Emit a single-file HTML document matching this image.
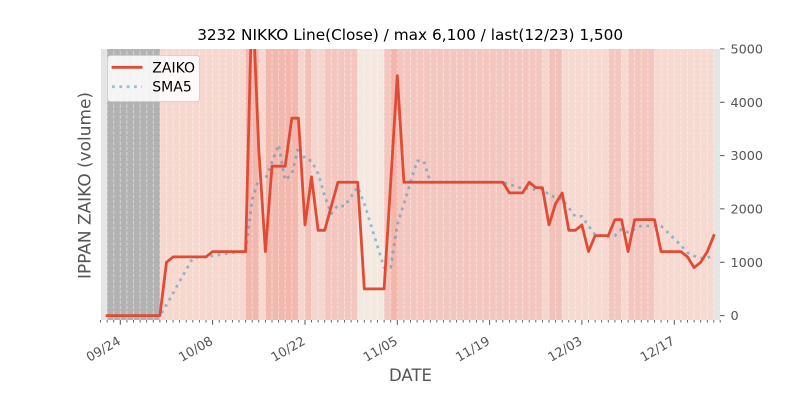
<!DOCTYPE html>
<html><head><meta charset="utf-8"><style>
html,body{margin:0;padding:0;background:#fff;}
svg{display:block;}
text{font-family:"DejaVu Sans","Liberation Sans",sans-serif;}
</style></head><body>
<svg width="800" height="400" viewBox="0 0 800 400" xmlns="http://www.w3.org/2000/svg">
<defs><clipPath id="pa"><rect x="101" y="49" width="619" height="271"/></clipPath></defs>
<rect width="800" height="400" fill="#fff"/>
<!-- plot background -->
<rect x="101" y="49" width="619" height="271" fill="#e5e5e5"/>
<!-- bands -->
<g shape-rendering="crispEdges">
<rect x="107.1" y="49" width="52.8" height="271" fill="#b2b2b2"/>
<rect x="159.9" y="49" width="85.7" height="271" fill="#f6d8cf"/>
<rect x="245.6" y="49" width="13.2" height="271" fill="#f2b7ad"/>
<rect x="258.8" y="49" width="6.6" height="271" fill="#f6d8cf"/>
<rect x="265.4" y="49" width="33" height="271" fill="#f2b7ad"/>
<rect x="298.4" y="49" width="6.6" height="271" fill="#f5d5cc"/>
<rect x="305" y="49" width="6.5" height="271" fill="#f2c0b8"/>
<rect x="311.5" y="49" width="13.2" height="271" fill="#f5d6ce"/>
<rect x="324.7" y="49" width="33" height="271" fill="#f3c7bf"/>
<rect x="357.7" y="49" width="26.4" height="271" fill="#f3e9e1"/>
<rect x="384.1" y="49" width="6.6" height="271" fill="#f3c7bf"/>
<rect x="390.7" y="49" width="7.2" height="271" fill="#f4b5aa"/>
<rect x="397.9" y="49" width="144.5" height="271" fill="#f3c7bf"/>
<rect x="542.4" y="49" width="6.6" height="271" fill="#f5d6ce"/>
<rect x="549" y="49" width="13.2" height="271" fill="#f2c2ba"/>
<rect x="562.2" y="49" width="46.1" height="271" fill="#f6d9d0"/>
<rect x="608.3" y="49" width="13.2" height="271" fill="#f3c7bf"/>
<rect x="621.5" y="49" width="6.6" height="271" fill="#f6d9d0"/>
<rect x="628.1" y="49" width="26.4" height="271" fill="#f3c7bf"/>
<rect x="654.5" y="49" width="59.3" height="271" fill="#f6d9d0"/>
</g>
<!-- dashed daily grid -->
<path stroke="#fff" stroke-opacity="0.45" stroke-width="1" stroke-dasharray="3.7 1.6" fill="none" d="M107.1 320V49M113.7 320V49M120.3 320V49M126.9 320V49M133.5 320V49M140.1 320V49M146.7 320V49M153.3 320V49M159.9 320V49M166.5 320V49M173.1 320V49M179.6 320V49M186.2 320V49M192.8 320V49M199.4 320V49M206 320V49M212.6 320V49M219.2 320V49M225.8 320V49M232.4 320V49M239 320V49M245.6 320V49M252.2 320V49M258.8 320V49M265.4 320V49M272 320V49M278.6 320V49M285.2 320V49M291.8 320V49M298.4 320V49M305 320V49M311.5 320V49M318.1 320V49M324.7 320V49M331.3 320V49M337.9 320V49M344.5 320V49M351.1 320V49M357.7 320V49M364.3 320V49M370.9 320V49M377.5 320V49M384.1 320V49M390.7 320V49M397.3 320V49M403.9 320V49M410.5 320V49M417.1 320V49M423.7 320V49M430.3 320V49M436.9 320V49M443.4 320V49M450 320V49M456.6 320V49M463.2 320V49M469.8 320V49M476.4 320V49M483 320V49M489.6 320V49M496.2 320V49M502.8 320V49M509.4 320V49M516 320V49M522.6 320V49M529.2 320V49M535.8 320V49M542.4 320V49M549 320V49M555.6 320V49M562.2 320V49M568.8 320V49M575.3 320V49M581.9 320V49M588.5 320V49M595.1 320V49M601.7 320V49M608.3 320V49M614.9 320V49M621.5 320V49M628.1 320V49M634.7 320V49M641.3 320V49M647.9 320V49M654.5 320V49M661.1 320V49M667.7 320V49M674.3 320V49M680.9 320V49M687.5 320V49M694.1 320V49M700.7 320V49M707.3 320V49M713.8 320V49"/>
<!-- series -->
<g clip-path="url(#pa)" fill="none">
<polyline stroke="#348ABD" stroke-opacity="0.5" stroke-width="2.78" stroke-dasharray="2.78 4.58" stroke-linecap="butt" stroke-linejoin="round" points="133.5,315.6 159.9,315.6 166.5,304.9 173.05,293.2 179.6,281.5 186.2,269.7 192.8,258.0 199.4,256.9 206.0,256.9 212.6,255.9 219.2,254.8 225.8,253.7 232.4,252.7 239.0,251.6 245.6,251.6 252.2,199.3 258.8,179.0 265.4,179.0 272.0,162.0 278.6,144.9 285.2,180.1 291.8,173.7 298.4,147.0 305.0,158.8 311.5,160.9 318.1,173.7 324.7,196.1 331.3,213.7 337.9,205.2 344.5,206.25 351.1,196.6 357.7,187.0 364.3,203.6 370.9,224.9 377.5,246.3 384.1,267.6 390.7,267.6 397.3,224.9 403.9,203.6 410.5,182.25 417.1,160.9 423.7,160.9 430.3,182.25 502.8,182.25 509.4,184.4 516.0,186.5 522.6,188.6 529.2,188.6 535.8,189.7 542.4,188.6 549.0,195.05 555.6,197.2 562.2,199.3 568.8,207.9 575.3,216.4 581.9,216.4 588.5,226.0 595.1,234.5 601.7,235.6 608.3,236.7 614.9,235.6 621.5,229.2 628.1,232.4 634.7,229.2 641.3,226.0 661.1,226.0 667.7,232.4 674.3,238.8 680.9,245.2 687.5,252.7 694.1,255.9 700.7,258.0 707.3,258.0 713.8,254.8"/>
<polyline stroke="#E24A33" stroke-width="2.78" stroke-linecap="square" stroke-linejoin="round" points="107.1,315.6 159.9,315.6 166.5,262.3 173.05,256.9 206.0,256.9 212.6,251.6 245.6,251.6 252.2,-9.8 258.8,150.2 265.4,251.6 272.0,166.2 285.2,166.2 291.8,118.2 298.4,118.2 305.0,224.9 311.5,176.9 318.1,230.3 324.7,230.3 337.9,182.25 357.7,182.25 364.3,288.9 384.1,288.9 397.3,75.6 403.9,182.25 502.8,182.25 509.4,192.9 522.6,192.9 529.2,182.25 535.8,187.6 542.4,187.6 549.0,224.9 555.6,203.6 562.2,192.9 568.8,230.3 575.3,230.3 581.9,224.9 588.5,251.6 595.1,235.6 608.3,235.6 614.9,219.6 621.5,219.6 628.1,251.6 634.7,219.6 654.5,219.6 661.1,251.6 680.9,251.6 687.5,256.9 694.1,267.6 700.7,262.3 707.3,251.6 713.8,235.6"/>
</g>
<!-- legend -->
<rect x="107.5" y="55.5" width="92" height="46" rx="3" ry="3" fill="#fff" fill-opacity="0.85" stroke="#cccccc" stroke-width="0.8"/>
<line x1="113" y1="67.3" x2="141" y2="67.3" stroke="#E24A33" stroke-width="2.78" stroke-linecap="square"/>
<line x1="112" y1="86.7" x2="142" y2="86.7" stroke="#348ABD" stroke-opacity="0.5" stroke-width="2.78" stroke-dasharray="2.78 4.58"/>
<text x="152.3" y="72.3" font-size="14" fill="#000">ZAIKO</text>
<text x="152.3" y="91.7" font-size="14" fill="#000">SMA5</text>
<!-- x ticks -->
<path stroke="#555" stroke-width="0.9" fill="none" d="M100.5 320v2.5M107.1 320v2.5M113.7 320v2.5M126.9 320v2.5M133.5 320v2.5M140.1 320v2.5M146.7 320v2.5M153.3 320v2.5M159.9 320v2.5M166.5 320v2.5M173.1 320v2.5M179.6 320v2.5M186.2 320v2.5M192.8 320v2.5M199.4 320v2.5M206 320v2.5M219.2 320v2.5M225.8 320v2.5M232.4 320v2.5M239 320v2.5M245.6 320v2.5M252.2 320v2.5M258.8 320v2.5M265.4 320v2.5M272 320v2.5M278.6 320v2.5M285.2 320v2.5M291.8 320v2.5M298.4 320v2.5M311.5 320v2.5M318.1 320v2.5M324.7 320v2.5M331.3 320v2.5M337.9 320v2.5M344.5 320v2.5M351.1 320v2.5M357.7 320v2.5M364.3 320v2.5M370.9 320v2.5M377.5 320v2.5M384.1 320v2.5M390.7 320v2.5M403.9 320v2.5M410.5 320v2.5M417.1 320v2.5M423.7 320v2.5M430.3 320v2.5M436.9 320v2.5M443.4 320v2.5M450 320v2.5M456.6 320v2.5M463.2 320v2.5M469.8 320v2.5M476.4 320v2.5M483 320v2.5M496.2 320v2.5M502.8 320v2.5M509.4 320v2.5M516 320v2.5M522.6 320v2.5M529.2 320v2.5M535.8 320v2.5M542.4 320v2.5M549 320v2.5M555.6 320v2.5M562.2 320v2.5M568.8 320v2.5M575.3 320v2.5M588.5 320v2.5M595.1 320v2.5M601.7 320v2.5M608.3 320v2.5M614.9 320v2.5M621.5 320v2.5M628.1 320v2.5M634.7 320v2.5M641.3 320v2.5M647.9 320v2.5M654.5 320v2.5M661.1 320v2.5M667.7 320v2.5M680.9 320v2.5M687.5 320v2.5M694.1 320v2.5M700.7 320v2.5M707.3 320v2.5M713.8 320v2.5M720.2 320v2.5"/>
<path stroke="#555" stroke-width="1" fill="none" d="M120.3 320v4.8M212.6 320v4.8M305 320v4.8M397.3 320v4.8M489.6 320v4.8M581.9 320v4.8M674.3 320v4.8"/>
<g font-size="12.8" fill="#555" text-anchor="end">
<text transform="translate(121.5,343.5) rotate(-30)">09/24</text>
<text transform="translate(213.8,343.5) rotate(-30)">10/08</text>
<text transform="translate(306.2,343.5) rotate(-30)">10/22</text>
<text transform="translate(398.5,343.5) rotate(-30)">11/05</text>
<text transform="translate(490.8,343.5) rotate(-30)">11/19</text>
<text transform="translate(583.1,343.5) rotate(-30)">12/03</text>
<text transform="translate(675.5,343.5) rotate(-30)">12/17</text>
</g>
<!-- y ticks (right) -->
<path stroke="#555" stroke-width="1" fill="none" d="M720 315.6h4.5M720 262.3h4.5M720 208.9h4.5M720 155.6h4.5M720 102.2h4.5M720 48.9h4.5"/>
<g font-size="12.8" fill="#555">
<text x="730.5" y="320.2">0</text>
<text x="730.5" y="266.9">1000</text>
<text x="730.5" y="213.5">2000</text>
<text x="730.5" y="160.2">3000</text>
<text x="730.5" y="106.8">4000</text>
<text x="730.5" y="53.5">5000</text>
</g>
<!-- axis labels -->
<text x="410.5" y="381" font-size="16.5" fill="#555" text-anchor="middle" textLength="43" lengthAdjust="spacingAndGlyphs">DATE</text>
<text transform="translate(90.7,185.5) rotate(-90)" font-size="16.6" fill="#555" text-anchor="middle" textLength="187" lengthAdjust="spacingAndGlyphs">IPPAN ZAIKO (volume)</text>
<!-- title -->
<text x="410.2" y="40" font-size="15.4" fill="#000" text-anchor="middle" textLength="426" lengthAdjust="spacingAndGlyphs">3232 NIKKO Line(Close) / max 6,100 / last(12/23) 1,500</text>
</svg>
</body></html>
